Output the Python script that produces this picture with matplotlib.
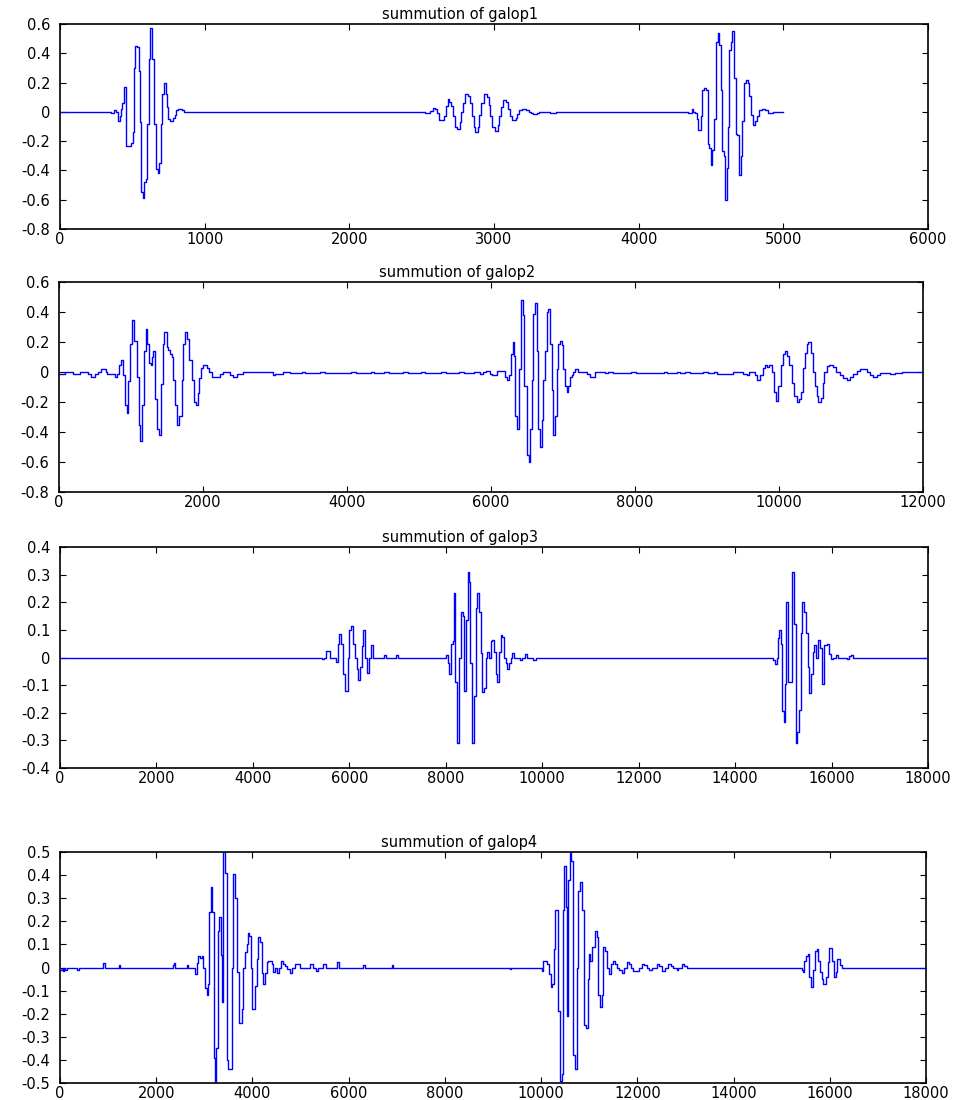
import matplotlib
matplotlib.use("Agg")
import matplotlib.pyplot as plt
from matplotlib.ticker import FuncFormatter, MultipleLocator

plt.rcParams['font.family'] = ['DejaVu Sans']
plt.rcParams['axes.unicode_minus'] = False

# galop1: step edges (x) and levels (y)
x1 = [0, 354, 370, 387, 398, 412, 421, 428, 440, 458,
      493, 505, 509, 521, 532, 544, 551, 562, 574, 583,
      595, 602, 613, 625, 639, 648, 653, 664, 676, 685,
      699, 706, 718, 734, 741, 748, 759, 782, 792, 803,
      817, 845, 856, 2526, 2556, 2577, 2590, 2608, 2623, 2654,
      2667, 2679, 2692, 2705, 2718, 2731, 2744, 2764, 2774, 2787,
      2800, 2821, 2833, 2846, 2859, 2872, 2887, 2897, 2913, 2928,
      2949, 2962, 2974, 2987, 3005, 3026, 3038, 3051, 3064, 3085,
      3097, 3110, 3123, 3149, 3159, 3174, 3192, 3218, 3244, 3256,
      3269, 3295, 3308, 3385, 3405, 3431, 4343, 4366, 4378, 4389,
      4401, 4412, 4429, 4440, 4454, 4465, 4477, 4488, 4498, 4509,
      4521, 4532, 4546, 4555, 4567, 4576, 4588, 4597, 4608, 4620,
      4627, 4638, 4645, 4659, 4673, 4682, 4691, 4705, 4714, 4728,
      4742, 4753, 4765, 4774, 4788, 4806, 4820, 4834, 4850, 4873,
      4896, 4931, 5000]
y1 = [0, -0.01, 0.016, 0, -0.06, -0.03, 0.02, 0.06, 0.17, -0.234,
      -0.21, -0.14, 0.3, 0.45, 0.44, 0.28, -0.07, -0.55, -0.59, -0.48,
      -0.46, -0.08, 0.36, 0.57, 0.36, 0.33, -0.08, -0.39, -0.42, -0.35,
      -0.08, 0.12, 0.2, 0.12, 0.03, -0.05, -0.065, -0.04, -0.02, 0.01,
      0.02, 0.01, 0, -0.01, 0.005, 0.025, 0.02, -0.01, -0.055, -0.03,
      0.04, 0.085, 0.07, 0.04, -0.03, -0.1, -0.115, -0.07, 0, 0.06,
      0.12, 0.11, 0.06, -0.03, -0.1, -0.135, -0.1, -0.02, 0.06, 0.12,
      0.1, 0.05, -0.03, -0.1, -0.13, -0.09, -0.03, 0.03, 0.08, 0.07,
      0.02, -0.03, -0.055, -0.04, -0.015, 0.01, 0.02, 0.01, 0, -0.01,
      -0.015, -0.005, 0, -0.01, -0.005, 0, -0.005, 0.02, 0, -0.01,
      -0.05, -0.125, -0.03, 0.15, 0.16, 0.15, -0.22, -0.25, -0.36, -0.26,
      -0.05, 0.48, 0.54, 0.46, 0.15, -0.27, -0.3, -0.6, -0.38, -0.1,
      0.42, 0.48, 0.55, 0.23, -0.15, -0.16, -0.43, -0.3, -0.06, 0.2,
      0.22, 0.2, 0.11, -0.02, -0.09, -0.06, -0.03, 0.01, 0.02, 0.01,
      -0.005, 0, 0]

# galop2
x2 = [0, 83, 199, 292, 407, 440, 500, 546, 583, 653,
      671, 778, 801, 834, 857, 894, 917, 940, 963, 986,
      1014, 1046, 1079, 1107, 1125, 1157, 1181, 1204, 1227, 1250,
      1273, 1296, 1310, 1333, 1357, 1394, 1417, 1440, 1463, 1496,
      1519, 1542, 1565, 1588, 1611, 1634, 1667, 1704, 1727, 1750,
      1783, 1810, 1843, 1875, 1903, 1926, 1949, 1972, 2005, 2051,
      2088, 2120, 2236, 2283, 2375, 2422, 2468, 2560, 2977, 3005,
      3116, 3209, 3370, 3420, 3620, 3690, 4050, 4120, 4330, 4380,
      4510, 4580, 4780, 4850, 5030, 5080, 5310, 5380, 5550, 5620,
      5770, 5848, 5894, 5927, 5987, 6019, 6089, 6195, 6218, 6255,
      6279, 6302, 6316, 6330, 6357, 6394, 6417, 6441, 6464, 6496,
      6524, 6543, 6566, 6589, 6612, 6635, 6658, 6681, 6705, 6728,
      6751, 6774, 6797, 6820, 6843, 6867, 6890, 6913, 6936, 6959,
      6982, 7006, 7029, 7052, 7075, 7098, 7121, 7144, 7168, 7214,
      7330, 7376, 7445, 7584, 7631, 7700, 7950, 8010, 8400, 8440,
      8580, 8620, 8700, 8760, 8950, 9010, 9100, 9140, 9367, 9506,
      9552, 9589, 9668, 9691, 9737, 9774, 9807, 9839, 9867, 9899,
      9932, 9959, 9992, 10024, 10052, 10084, 10117, 10145, 10177, 10209,
      10247, 10279, 10302, 10330, 10362, 10385, 10409, 10441, 10469, 10501,
      10524, 10547, 10580, 10608, 10631, 10663, 10700, 10756, 10793, 10848,
      10895, 10941, 10987, 11034, 11080, 11126, 11219, 11265, 11311, 11358,
      11404, 11543, 11612, 11705, 12000]
y2 = [-0.013, 0, -0.015, 0, -0.01, -0.03, -0.015, 0, 0.02, 0,
      -0.015, -0.03, -0.01, 0.05, 0.08, -0.02, -0.22, -0.27, -0.06, 0.19,
      0.35, 0.21, -0.03, -0.35, -0.46, -0.22, 0.14, 0.29, 0.19, 0.06,
      0.05, 0.1, 0.14, -0.18, -0.38, -0.42, -0.08, 0.19, 0.27, 0.17,
      0.15, 0.12, 0.1, -0.05, -0.22, -0.35, -0.29, -0.05, 0.19, 0.27,
      0.22, 0.08, -0.05, -0.2, -0.22, -0.14, -0.04, 0.03, 0.05, 0.03,
      0, -0.03, -0.01, 0, -0.02, -0.03, -0.015, 0, -0.02, -0.01,
      0, -0.006, 0, -0.006, 0, -0.006, 0, -0.006, 0, -0.006,
      0, -0.006, 0, -0.006, 0, -0.006, 0, -0.006, 0, -0.006,
      0, -0.016, 0, 0.005, -0.01, -0.018, 0.005, -0.03, -0.055, -0.02,
      0.12, 0.2, 0.11, -0.29, -0.38, 0.02, 0.48, 0.38, -0.09, -0.55,
      -0.6, -0.38, -0.05, 0.39, 0.46, 0.14, -0.38, -0.5, -0.32, -0.05,
      0.14, 0.4, 0.42, 0.19, -0.12, -0.42, -0.29, 0.02, 0.19, 0.21,
      0.18, 0.02, -0.09, -0.13, -0.09, -0.03, -0.02, 0, 0.02, 0,
      -0.01, -0.03, 0, -0.007, 0, -0.005, 0, -0.005, 0, -0.005,
      0, -0.005, 0, -0.005, 0, -0.005, 0, -0.01, 0, -0.01,
      -0.02, 0, -0.02, -0.05, -0.02, 0.03, 0.05, 0.035, 0.045, 0,
      -0.13, -0.19, -0.09, 0.045, 0.12, 0.14, 0.11, 0.045, -0.075, -0.16,
      -0.2, -0.18, -0.13, 0.025, 0.13, 0.19, 0.2, 0.13, 0, -0.09,
      -0.16, -0.2, -0.17, -0.075, 0, 0.04, 0.05, 0.035, 0, -0.02,
      -0.04, -0.05, -0.03, -0.01, 0.01, 0.02, 0, -0.02, -0.035, -0.02,
      -0.005, -0.01, -0.005, 0, 0]

# galop3
x3 = [0, 5424, 5466, 5514, 5597, 5722, 5757, 5792, 5826, 5861,
      5910, 5965, 6000, 6034, 6069, 6118, 6152, 6187, 6222, 6256,
      6291, 6333, 6367, 6416, 6450, 6485, 6728, 6763, 6971, 7006,
      8005, 8040, 8074, 8109, 8143, 8164, 8199, 8240, 8282, 8309,
      8351, 8385, 8420, 8455, 8475, 8503, 8538, 8586, 8620, 8655,
      8690, 8724, 8759, 8793, 8828, 8862, 8897, 8932, 8966, 9001,
      9035, 9070, 9104, 9139, 9173, 9208, 9243, 9277, 9312, 9346,
      9381, 9415, 9540, 9574, 9644, 9678, 9817, 9872, 14794, 14836,
      14864, 14891, 14919, 14947, 14981, 15009, 15030, 15057, 15106, 15175,
      15223, 15258, 15292, 15327, 15361, 15396, 15431, 15472, 15507, 15541,
      15576, 15610, 15645, 15680, 15714, 15763, 15797, 15852, 15901, 15942,
      15984, 16025, 16094, 16143, 16316, 16357, 16399, 16454, 18000]
y3 = [0, -0.005, 0, 0.025, 0, -0.015, 0.05, 0.085, 0.05, -0.06,
      -0.12, 0, 0.1, 0.115, 0.05, 0, -0.04, -0.08, -0.035, 0.04,
      0.1, 0, -0.055, 0, 0.045, 0, 0.01, 0, 0.01, 0,
      0.01, -0.02, -0.06, 0.05, 0.06, 0.235, -0.09, -0.31, 0, 0.165,
      0.15, -0.12, 0.135, 0.31, 0.275, -0.02, -0.31, -0.14, 0.18, 0.235,
      0.165, 0.015, -0.125, -0.11, 0, 0.02, 0, 0.06, 0.065, 0.02,
      -0.06, -0.09, 0.02, 0.08, 0.075, 0, -0.02, -0.04, -0.02, 0,
      0.015, 0, -0.01, 0, 0.013, 0, -0.01, 0, -0.01, -0.025,
      0, 0.07, 0.1, 0.05, -0.195, -0.235, -0.095, 0.2, -0.09, 0.31,
      0.12, -0.31, -0.27, -0.19, 0.09, 0.2, 0.165, 0.087, -0.034, -0.13,
      -0.06, 0.02, 0.045, 0, 0.063, 0.033, -0.095, 0.045, 0.048, 0.012,
      -0.007, 0, 0.008, 0, -0.007, 0.005, 0.01, 0, 0]

# galop4
x4 = [0, 35, 55, 90, 104, 139, 360, 400, 900, 925,
      1230, 1250, 2340, 2370, 2400, 2650, 2670, 2806, 2840, 2875,
      2910, 2944, 2979, 3014, 3048, 3083, 3104, 3131, 3159, 3194,
      3222, 3249, 3277, 3312, 3339, 3367, 3395, 3429, 3464, 3492,
      3568, 3589, 3644, 3686, 3720, 3775, 3810, 3845, 3879, 3914,
      3935, 3963, 3984, 4053, 4087, 4122, 4157, 4191, 4226, 4260,
      4295, 4330, 4399, 4434, 4468, 4503, 4558, 4593, 4628, 4676,
      4725, 4780, 4829, 4884, 4988, 5196, 5251, 5320, 5369, 5473,
      5528, 5750, 5806, 6300, 6330, 6900, 6920, 9354, 9374, 10012,
      10046, 10129, 10164, 10199, 10233, 10268, 10296, 10358, 10393, 10427,
      10455, 10483, 10510, 10538, 10566, 10601, 10628, 10670, 10704, 10739,
      10774, 10808, 10843, 10892, 10933, 10968, 10989, 11023, 11058, 11120,
      11155, 11189, 11224, 11259, 11293, 11328, 11363, 11404, 11446, 11487,
      11536, 11584, 11626, 11674, 11723, 11778, 11827, 11861, 11903, 12042,
      12090, 12139, 12194, 12250, 12298, 12402, 12450, 12506, 12575, 12644,
      12693, 12748, 12818, 12852, 12921, 12970, 13025, 15415, 15450, 15471,
      15506, 15540, 15575, 15610, 15658, 15693, 15727, 15762, 15797, 15831,
      15866, 15921, 15956, 15990, 16046, 16087, 16122, 16157, 16212, 16247,
      18000]
y4 = [-0.01, 0, -0.015, 0, -0.012, 0, -0.012, 0, 0.02, 0,
      0.01, 0, 0.01, 0.02, 0, 0.01, 0, -0.03, 0.02, 0.05,
      0.04, 0.05, 0, -0.087, -0.12, -0.07, 0.24, 0.35, 0.24, -0.39,
      -0.5, -0.35, 0.16, 0.22, 0.055, -0.15, 0.5, 0.41, -0.4, -0.44,
      0, 0.405, 0.3, -0.02, -0.24, -0.18, 0, 0.065, 0.1, 0.15,
      0.135, 0, -0.18, -0.08, 0.037, 0.13, 0.11, -0.025, -0.07, -0.025,
      0.023, 0.03, 0.016, -0.02, 0, -0.025, 0, 0.027, 0.016, 0.005,
      -0.008, -0.023, 0, 0.016, 0, 0.016, 0, -0.015, 0, 0.013,
      0, 0.023, 0, 0.01, 0, 0.01, 0, -0.005, 0, -0.017,
      0.03, 0.016, -0.03, -0.085, -0.07, 0.08, 0.25, -0.19, -0.49, -0.46,
      0.25, 0.44, 0.26, -0.21, 0.38, 0.5, 0.46, -0.38, -0.44, 0,
      0.33, 0.37, 0.25, -0.25, -0.26, -0.05, 0.06, 0.03, 0.09, 0.16,
      0.13, -0.12, -0.17, -0.12, 0.087, 0.07, 0, -0.026, 0.016, 0.03,
      0.016, 0, -0.01, -0.023, 0, 0.023, 0.016, 0, -0.015, 0,
      0.016, 0.01, 0, -0.01, 0, 0.016, 0.005, -0.015, 0, 0.016,
      0.005, 0, -0.01, 0, 0.016, 0.005, 0, -0.01, -0.02, 0.03,
      0.05, 0.06, -0.04, -0.085, -0.01, 0.07, 0.08, 0.03, -0.02, -0.05,
      -0.07, -0.04, 0.025, 0.085, 0.03, -0.04, -0.02, 0.035, 0.01, 0,
      0]

titles = ["summution of galop1", "summution of galop2",
          "summution of galop3", "summution of galop4"]
xmax = [6000, 12000, 18000, 18000]
xstep = [1000, 2000, 2000, 2000]
ylims = [(-0.8, 0.6), (-0.8, 0.6), (-0.4, 0.4), (-0.5, 0.5)]
ystep = [0.2, 0.2, 0.1, 0.1]

# axes boxes in pixels: left, top, right, bottom
W, H = 959, 1100
boxes = [(60, 24, 928, 229), (59, 282, 923, 492),
         (60, 547, 928, 768), (60, 852, 926, 1083)]

fmt = FuncFormatter(lambda v, p: '%g' % round(v, 4))

fig = plt.figure(figsize=(W / 100, H / 100), dpi=100)
data = [(x1, y1), (x2, y2), (x3, y3), (x4, y4)]

for i in range(4):
    l, t, r, b = boxes[i]
    ax = fig.add_axes([l / W, 1 - b / H, (r - l) / W, (b - t) / H])
    xs, ys = data[i]
    ax.step(xs, ys, where='post', color='#0000ff', lw=1.0)
    ax.set_xlim(0, xmax[i])
    ax.set_ylim(*ylims[i])
    ax.xaxis.set_major_locator(MultipleLocator(xstep[i]))
    ax.yaxis.set_major_locator(MultipleLocator(ystep[i]))
    ax.xaxis.set_major_formatter(fmt)
    ax.yaxis.set_major_formatter(fmt)
    ax.tick_params(direction='in', length=4, width=0.8, top=True, right=True,
                   labelsize=10.5, pad=2)
    ax.tick_params(axis='y', pad=7)
    for s in ax.spines.values():
        s.set_linewidth(1.2)
    ax.text(0.461, 1.01, titles[i], transform=ax.transAxes, ha='center',
            va='bottom', fontsize=10.5)

fig.savefig("out.png", dpi=100)
